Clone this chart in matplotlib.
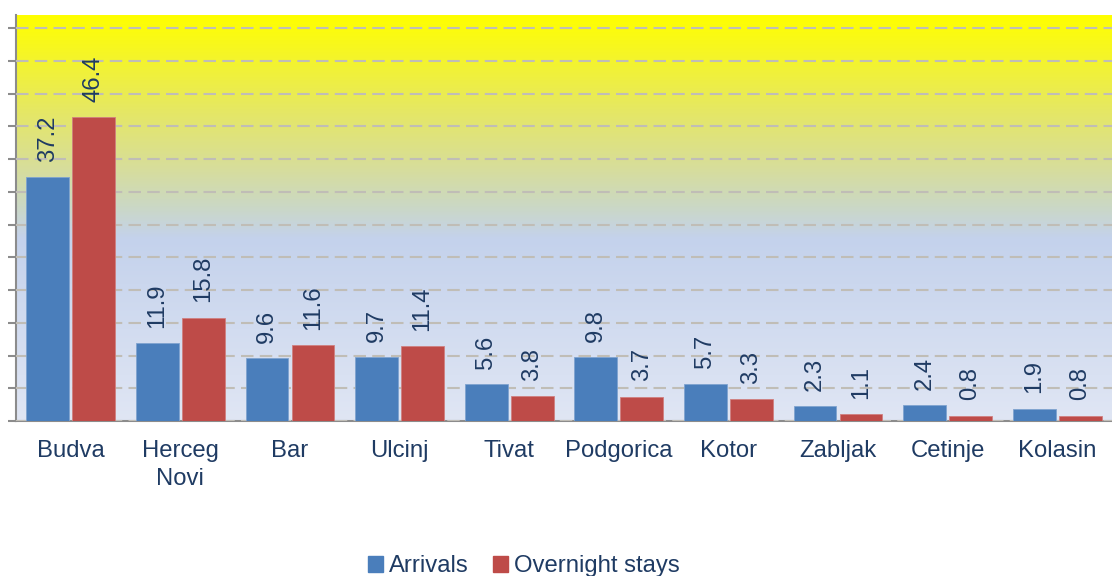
import numpy as np
import matplotlib.pyplot as plt
from matplotlib.colors import LinearSegmentedColormap
from matplotlib.patches import Patch

plt.rcParams['font.family'] = ['Liberation Sans', 'DejaVu Sans']

cities = ['Budva', 'Herceg\nNovi', 'Bar', 'Ulcinj', 'Tivat', 'Podgorica',
          'Kotor', 'Zabljak', 'Cetinje', 'Kolasin']
arrivals = [37.2, 11.9, 9.6, 9.7, 5.6, 9.8, 5.7, 2.3, 2.4, 1.9]
overnight = [46.4, 15.8, 11.6, 11.4, 3.8, 3.7, 3.3, 1.1, 0.8, 0.8]

BLUE = '#4A7EBB'
RED = '#BE4B48'
TXT = '#1F3B63'
FS = 17.2

fig = plt.figure(figsize=(11.12, 5.76), dpi=100)
ax = fig.add_axes([16/1112, 1 - 421/576, 1 - 16/1112, 406/576])

n = len(cities)
x = np.arange(n)
ymax = 62

# gradient background: yellow at top fading into pale blue
stops = [(0.0, '#E0E6F4'), (0.45, '#C4D2EC'), (0.53, '#CBD8C4'),
         (0.63, '#D8DE98'), (0.76, '#E5E766'), (0.92, '#F7F720'), (1.0, '#FFFF00')]
cmap = LinearSegmentedColormap.from_list('bg', stops)
grad = np.linspace(0, 1, 256).reshape(-1, 1)
ax.imshow(grad, aspect='auto', cmap=cmap, origin='lower',
          extent=[-0.5, n - 0.5, 0, ymax], zorder=0)

w = 0.39
off = 0.21
b1 = ax.bar(x - off, arrivals, w, color=BLUE, edgecolor='#7FA3D0', linewidth=0.6, zorder=3)
b2 = ax.bar(x + off, overnight, w, color=RED, edgecolor='#D08080', linewidth=0.6, zorder=3)

for bars, vals in ((b1, arrivals), (b2, overnight)):
    for r, v in zip(bars, vals):
        ax.annotate(f'{v:.1f}', (r.get_x() + r.get_width() / 2, r.get_height()),
                    xytext=(0, 11), textcoords='offset points', rotation=90,
                    ha='center', va='bottom', fontsize=FS, color=TXT, zorder=4)

ax.set_xlim(-0.5, n - 0.5)
ax.set_ylim(0, ymax)
ax.set_yticks(np.arange(0, 61, 5))
ax.set_yticklabels([])
ax.yaxis.grid(True, color='#C0BDB6', linestyle=(0, (6, 3)), linewidth=1.5, zorder=1)
ax.set_axisbelow(False)
ax.tick_params(axis='y', direction='out', length=6, width=1.5, color='#8C8C8C')
ax.set_xticks(x)
ax.set_xticklabels(cities, fontsize=FS, color=TXT, va='top', linespacing=1.3)
ax.tick_params(axis='x', length=0, pad=14)

for s in ('top', 'right'):
    ax.spines[s].set_visible(False)
for s in ('left', 'bottom'):
    ax.spines[s].set_color('#8C8C8C')
    ax.spines[s].set_linewidth(1.5)

handles = [Patch(color=BLUE, label='Arrivals'), Patch(color=RED, label='Overnight stays')]
fig.legend(handles=handles, loc='center', bbox_to_anchor=(524/1112, 1 - 566/576),
           ncol=2, frameon=False, fontsize=FS, labelcolor=TXT,
           handlelength=0.65, handleheight=0.65, handletextpad=0.25, columnspacing=1.0)

fig.savefig('out.png', dpi=100)
